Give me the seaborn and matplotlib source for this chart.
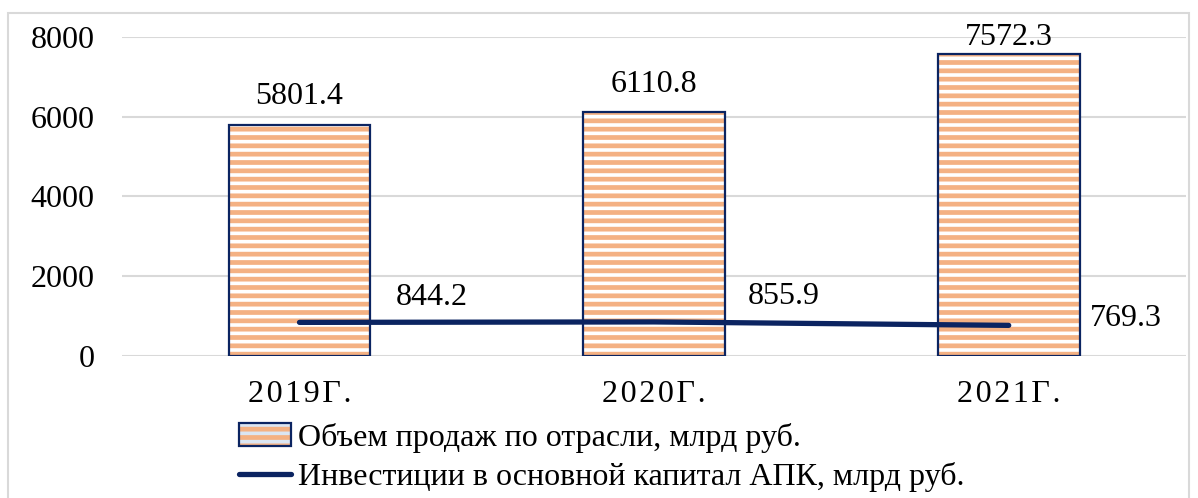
import matplotlib.pyplot as plt
import seaborn as sns
from matplotlib.patches import Patch, Rectangle
from matplotlib.lines import Line2D
from matplotlib.legend_handler import HandlerTuple

# Данные графика
years = ['2019г.', '2020г.', '2021г.']
sales = [5801.4, 6110.8, 7572.3]
invest = [844.2, 855.9, 769.3]
sales_name = 'Объем продаж по отрасли, млрд руб.'
invest_name = 'Инвестиции в основной капитал АПК, млрд руб.'
y_ticks = [0, 2000, 4000, 6000, 8000]

navy = '#0b2461'
orange = '#f4b183'
fs = 23

sns.set_style('white')
plt.rcParams['font.family'] = ['Liberation Serif', 'DejaVu Serif']
plt.rcParams['hatch.linewidth'] = 3.4
plt.rcParams['text.color'] = 'black'
plt.rcParams['xtick.color'] = 'black'
plt.rcParams['ytick.color'] = 'black'

fig = plt.figure(figsize=(11.98, 4.98), dpi=100)
ax = fig.add_axes([0.102, 0.285, 0.888, 0.641])

# рамка вокруг всей картинки
fig.patches.append(Rectangle((8 / 1198, -0.02), 1181 / 1198, 1.02 - 13 / 498,
                             transform=fig.transFigure, fill=False,
                             edgecolor='#d9d9d9', linewidth=1.5))

# столбцы: полосатая заливка, потом тёмная рамка поверх
sns.barplot(x=years, y=sales, ax=ax, width=0.4, color='white',
            edgecolor=orange, linewidth=0, hatch='--', zorder=2)
for p in list(ax.patches):
    ax.add_patch(Rectangle(p.get_xy(), p.get_width(), p.get_height(),
                           fill=False, edgecolor=navy, linewidth=1.6, zorder=3))

# линия инвестиций
sns.lineplot(x=years, y=invest, ax=ax, sort=False, color=navy,
             linewidth=3.8, zorder=4)

# подписи значений
bar_offsets = [(0, 20), (0, 20), (0, 12)]
for i, v in enumerate(sales):
    ax.annotate(f'{v}', (i, v), xytext=bar_offsets[i], textcoords='offset points',
                ha='center', va='center', fontsize=fs, annotation_clip=False)
line_offsets = [(95, 18), (93, 18), (84, 5)]
for i, v in enumerate(invest):
    ax.annotate(f'{v}', (i, v), xytext=line_offsets[i], textcoords='offset points',
                ha='center', va='center', fontsize=fs)

ax.set_ylim(0, 8000)
ax.set_xlim(-0.5, 2.5)
ax.set_yticks(y_ticks)
ax.set_xticks(range(len(years)))
ax.set_xticklabels(['\u200a'.join(y.upper()) for y in years])
ax.tick_params(axis='y', labelsize=fs, pad=20, length=0)
ax.tick_params(axis='x', labelsize=fs, pad=17, length=0)
ax.grid(axis='y', color='#d9d9d9', linewidth=1.5, zorder=0)
ax.set_axisbelow(True)
sns.despine(ax=ax, left=True, bottom=True)

handles = [(Patch(facecolor='#dbe6f3', edgecolor=orange, hatch='--', linewidth=0),
            Patch(fill=False, edgecolor=navy, linewidth=1.6)),
           Line2D([], [], color=navy, linewidth=3.8)]
fig.legend(handles, [sales_name, invest_name], loc='upper left',
           bbox_to_anchor=(210 / 1198, 1 - 394 / 498), frameon=False,
           fontsize=fs, handlelength=1.65, handletextpad=0.2, labelspacing=0.3,
           handler_map={tuple: HandlerTuple(ndivide=1, pad=0)})

fig.savefig('out.png', dpi=100)
